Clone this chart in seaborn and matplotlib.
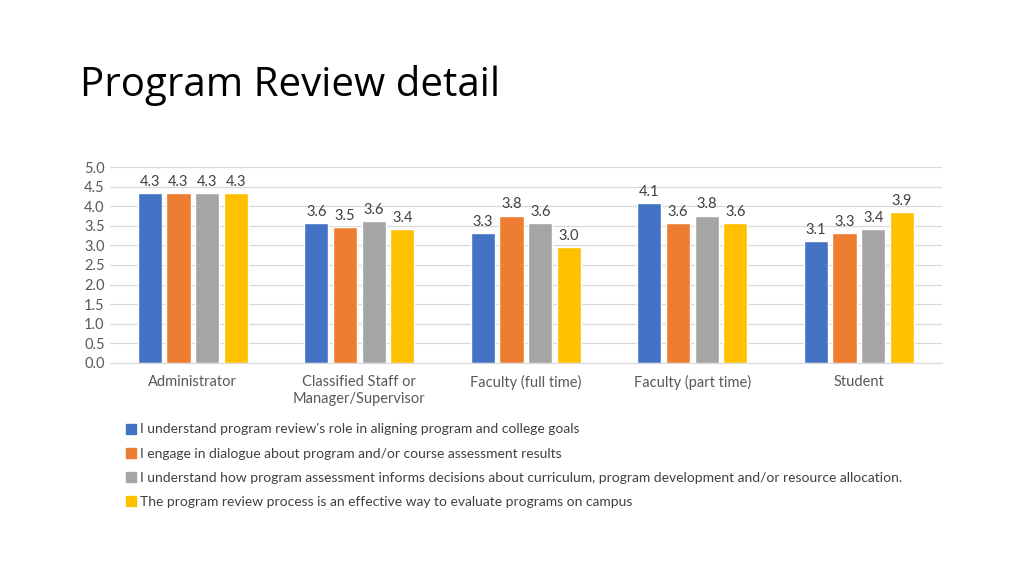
import pandas as pd
import matplotlib
matplotlib.use("Agg")
import matplotlib.pyplot as plt
import seaborn as sns

# Data
groups = ["Administrator", "Classified Staff or\nManager/Supervisor",
          "Faculty (full time)", "Faculty (part time)", "Student"]
series = [
    "I understand program review's role in aligning program and college goals",
    "I engage in dialogue about program and/or course assessment results",
    "I understand how program assessment informs decisions about curriculum, program development and/or resource allocation.",
    "The program review process is an effective way to evaluate programs on campus",
]
role_vals = [4.33, 3.57, 3.32, 4.08, 3.12]
dialogue_vals = [4.33, 3.47, 3.76, 3.56, 3.32]
informs_vals = [4.33, 3.63, 3.56, 3.76, 3.42]
process_vals = [4.33, 3.42, 2.96, 3.56, 3.86]
colors = ["#4472C4", "#ED7D31", "#A5A5A5", "#FFC000"]

rows = []
for s, vals in zip(series, [role_vals, dialogue_vals, informs_vals, process_vals]):
    for g, v in zip(groups, vals):
        rows.append({"group": g, "series": s, "value": v})
df = pd.DataFrame(rows)

sns.set_style("white")
plt.rcParams["font.family"] = ["Lato", "DejaVu Sans"]

fig = plt.figure(figsize=(10.24, 5.76), dpi=100)
ax = fig.add_axes([0.107, 0.370, 0.813, 0.340])

sns.barplot(data=df, x="group", y="value", hue="series", palette=colors,
            width=0.69, gap=0.16, ax=ax, legend=False, saturation=1)

for c in ax.containers:
    ax.bar_label(c, fmt="%.1f", padding=3, fontsize=10.5, color="#404040")

ax.set_ylim(0, 5)
ax.set_yticks([i * 0.5 for i in range(11)])
ax.set_yticklabels([f"{i * 0.5:.1f}" for i in range(11)])
ax.yaxis.grid(True, color="#D9D9D9", linewidth=0.9)
ax.set_axisbelow(True)
for sp in ["top", "right", "left"]:
    ax.spines[sp].set_visible(False)
ax.spines["bottom"].set_color("#D9D9D9")
ax.tick_params(axis="both", length=0, labelsize=10.5, colors="#595959")
ax.tick_params(axis="x", pad=9)
ax.set_xlabel("")
ax.set_ylabel("")

handles = [plt.Rectangle((0, 0), 1, 1, color=c) for c in colors]
fig.legend(handles, series, loc="upper left", bbox_to_anchor=(0.111, 0.2865),
           frameon=False, fontsize=10, handlelength=0.72, handleheight=0.72,
           handletextpad=0.3, labelspacing=0.88, labelcolor="#404040")

fig.text(0.078, 0.852, "Program Review detail", fontsize=29, color="#000000",
         ha="left", va="center", family=["Open Sans", "DejaVu Sans"])

fig.savefig("out.png", dpi=100)
